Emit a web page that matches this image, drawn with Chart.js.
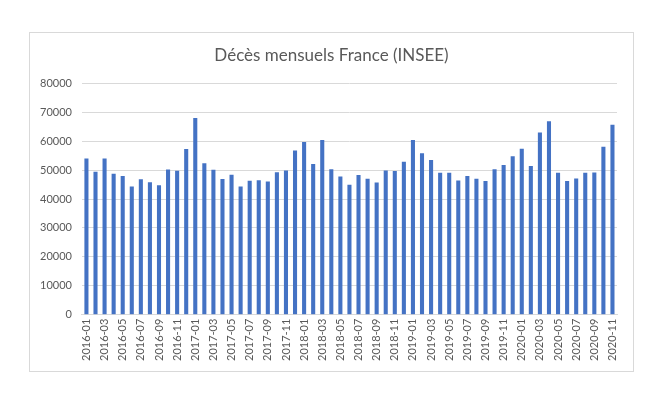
<!DOCTYPE html>
<html>
<head>
<meta charset="utf-8">
<script src="https://cdn.jsdelivr.net/npm/chart.js@4"></script>
<style>
  body { margin: 0; background: #fff; }
  #box { position: absolute; left: 29px; top: 32px; width: 603px; height: 338px; border: 1px solid #d9d9d9; }
</style>
</head>
<body>
<div id="box"><canvas id="canvas" width="603" height="338"></canvas></div>
<script>
const months = [];
for (let y = 2016; y <= 2020; y++) {
    for (let m = 1; m <= 12; m++) {
        if (y === 2020 && m > 11) break;
        months.push(y + '-' + String(m).padStart(2, '0'));
    }
}

const deaths2016 = [54000, 49400, 54000, 48700, 48000, 44300, 46800, 45800, 44800, 50200, 49800, 57300];
const deaths2017 = [68000, 52400, 50100, 46900, 48400, 44300, 46300, 46500, 46100, 49300, 49900, 56800];
const deaths2018 = [59700, 52100, 60400, 50300, 47800, 44900, 48300, 47000, 45700, 49900, 49700, 52900];
const deaths2019 = [60400, 55800, 53500, 49100, 49100, 46400, 48000, 47000, 46200, 50300, 51800, 54800];
const deaths2020 = [57400, 51400, 63000, 66900, 49100, 46200, 47100, 49100, 49200, 58100, 65700];

const yTicks = [0, 10000, 20000, 30000, 40000, 50000, 60000, 70000, 80000];

const ctx = document.getElementById('canvas');

// centre the title on the whole box, not only on the padded area
const centreTitle = {
    id: 'centreTitle',
    afterLayout(chart) {
        chart.titleBlock.left = 0;
        chart.titleBlock.right = chart.width;
    }
};

new Chart(ctx, {
    type: 'bar',
    data: {
        labels: months,
        datasets: [{
            label: 'Décès',
            data: [...deaths2016, ...deaths2017, ...deaths2018, ...deaths2019, ...deaths2020],
            backgroundColor: '#4472C4',
            barPercentage: 0.9,
            categoryPercentage: 0.5,
        }]
    },

    options: {
        responsive: false,
        animation: false,
        layout: {
            padding: { left: 0, right: 16, top: 6, bottom: 6 }
        },
        plugins: {
            legend: { display: false },
            tooltip: { enabled: false },
            title: {
                display: true,
                text: 'Décès mensuels France (INSEE)',
                color: '#595959',
                font: { family: 'Lato', size: 17, weight: 'normal' },
                padding: { top: 6, bottom: 18 }
            }
        },

        scales: {
            x: {
                grid: { display: false, drawTicks: false },
                border: { color: '#d9d9d9' },
                ticks: {
                    autoSkip: false,
                    minRotation: 90,
                    maxRotation: 90,
                    padding: 4,
                    color: '#595959',
                    font: { family: 'Lato', size: 11 },
                    callback: function (v, i) {
                        return i % 2 === 0 ? months[i] : '';
                    }
                },
            },
            y: {
                min: 0,
                max: 80000,
                afterBuildTicks: function (axis) {
                    axis.ticks = yTicks.map(v => ({ value: v }));
                },
                grid: { color: '#d9d9d9', drawTicks: false },
                border: { display: false },
                ticks: {
                    padding: 10,
                    color: '#595959',
                    font: { family: 'Lato', size: 11 },
                    callback: v => String(v)
                },
            }
        }
    },
    plugins: [centreTitle]
});
</script>
</body>
</html>
